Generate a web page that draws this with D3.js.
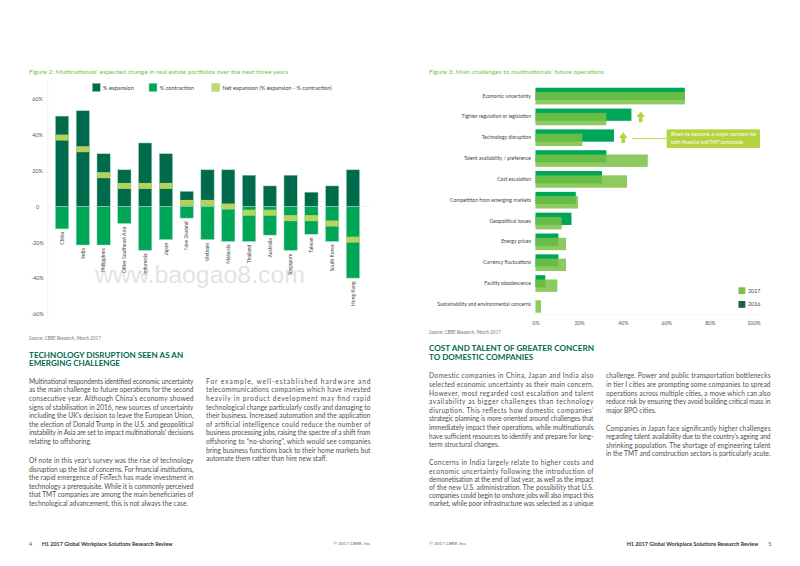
<!DOCTYPE html>
<html><head><meta charset="utf-8">
<script src="https://cdn.jsdelivr.net/npm/d3@7"></script>
<style>
html,body{margin:0;padding:0;background:#fff;}
svg{display:block;}
</style></head><body>
<svg id="c" width="800" height="566"></svg>
<script>
// ---------- DATA ----------
const countries = ["China","India","Philippines","Other Southeast Asia","Indonesia","Japan","New Zealand","Vietnam","Malaysia","Thailand","Australia","Singapore","Taiwan","South Korea","Hong Kong"];
const expansion   = [50.5, 53.5, 29.5, 20.5, 35.5, 29.5, 8.5, 20.5, 20.5, 17.5, 11.5, 17.5, 8, 11.5, 20.5];
const contraction = [-12.5, -21.5, -21.5, -9.5, -24.5, -18.5, -6.5, -18.5, -19.5, -19.5, -16, -24.5, -15.5, -19.5, -40];
const netExpansion= [38.5, 32, 17.5, 11.5, 11.5, 11.5, 2, 2, 0, -3.5, -3.5, -6.5, -6.5, -9.5, -18.5];
const yTickValues = [60, 40, 20, 0, -20, -40, -60];
const yTickLabels = ["60%","40%","20%","0","-20%","-40%","-60%"];
const legend1 = ["% expansion","% contraction","Net expansion (% expansion - % contraction)"];

const challenges = ["Economic uncertainty","Tighter regulation or legislation","Technology disruption","Talent availability / preference","Cost escalation","Competition from emerging markets","Geopolitical issues","Energy prices","Currency fluctuations","Facility obsolescence","Sustainability and environmental concerns"];
const share2016 = [68.5, 44, 36, 32.5, 30.5, 18.5, 16.5, 10.5, 10.5, 4.5, 0];
const share2017 = [68.5, 32.5, 21.5, 51.5, 42, 19.5, 12, 14, 14, 10, 2.5];
const xTickValues = [0, 20, 40, 60, 80, 100];
const xTickLabels = ["0%","20%","40%","60%","80%","100%"];
const legend2 = ["2017","2016"];
const risenCategories = ["Tighter regulation or legislation","Technology disruption"];
const noteLines = ["Risen to become a major concern for","both financial and TMT companies"];

// ---------- STYLE ----------
const FONT = "Lato, 'Noto Sans', 'DejaVu Sans', sans-serif";
const C_EXP = "#006a4d", C_CON = "#00a657", C_NET = "#c3da62";
const C_16 = "#00a657", C_17 = "#7ac143", C_16LEG = "#1d5e46";
const C_TITLE = "#7dc242", C_HEAD = "#006a4d", C_BODY = "#505050", C_AXIS = "#555";
const C_NOTE = "#b3d33f";

const svg = d3.select("#c").attr("font-family", FONT);

// ---------- LEFT CHART ----------
const x1 = d3.scaleBand().domain(countries).range([45, 370]).paddingInner(0.36).paddingOuter(0.5);
const y1 = d3.scaleLinear().domain([-60, 60]).range([313.9, 99.1]);
const bw1 = x1.bandwidth();
const g1 = svg.append("g");

g1.append("line").attr("x1", 47.7).attr("x2", 47.7).attr("y1", 82).attr("y2", 322)
  .attr("stroke", "#cfcfcf").attr("stroke-width", 0.6).attr("stroke-dasharray", "1,1.5");
g1.append("line").attr("x1", 47.7).attr("x2", 370).attr("y1", y1(0)).attr("y2", y1(0))
  .attr("stroke", "#cfcfcf").attr("stroke-width", 0.6).attr("stroke-dasharray", "1,1.5");

const yAx = g1.append("g").attr("transform", "translate(47.7,0)")
  .call(d3.axisLeft(y1).tickValues(yTickValues).tickFormat((d,i)=>yTickLabels[i]).tickSize(0).tickPadding(0));
yAx.select(".domain").remove();
yAx.selectAll("text").attr("x", -10.2).attr("text-anchor", "middle").attr("font-size", 5.4)
  .attr("font-family", FONT).attr("fill", C_AXIS);

const rows1 = countries.map((c,i)=>({c, e: expansion[i], k: contraction[i], n: netExpansion[i]}));
g1.selectAll(".exp").data(rows1).join("rect")
  .attr("x", d=>x1(d.c)).attr("width", bw1)
  .attr("y", d=>y1(d.e)).attr("height", d=>y1(0)-y1(d.e))
  .attr("fill", C_EXP).attr("stroke", "#a8dcc5").attr("stroke-width", 0.5);
g1.selectAll(".con").data(rows1).join("rect")
  .attr("x", d=>x1(d.c)).attr("width", bw1)
  .attr("y", y1(0)).attr("height", d=>y1(d.k)-y1(0))
  .attr("fill", C_CON).attr("stroke", "#a8dcc5").attr("stroke-width", 0.5);
g1.selectAll(".net").data(rows1).join("rect")
  .attr("x", d=>x1(d.c)).attr("width", bw1)
  .attr("y", d=>y1(d.n)-3).attr("height", 6)
  .attr("fill", C_NET).attr("opacity", 0.92);
g1.selectAll(".cat").data(rows1).join("text")
  .attr("transform", d=>`translate(${x1(d.c)+bw1/2},${y1(d.k)+3.2}) rotate(-90)`)
  .attr("text-anchor", "end").attr("dy", "0.35em").attr("font-size", 5)
  .attr("fill", "#444").text(d=>d.c);

// legend
const leg1X = [92.3, 149, 211.7];
const leg1C = [C_EXP, C_CON, C_NET];
legend1.forEach((t,i)=>{
  g1.append("rect").attr("x", leg1X[i]).attr("y", 83.3).attr("width", 8).attr("height", 8.3)
    .attr("fill", leg1C[i]).attr("stroke", "#a8dcc5").attr("stroke-width", 0.4);
  g1.append("text").attr("x", leg1X[i]+10.8).attr("y", 87.6).attr("dy", "0.35em")
    .attr("font-size", 5.6).attr("fill", "#444").text(t);
});

// ---------- RIGHT CHART ----------
const y2 = d3.scaleBand().domain(challenges).range([85.6, 314.7]);
const x2 = d3.scaleLinear().domain([0, 100]).range([535.5, 753.5]);
const step2 = y2.step();
const g2 = svg.append("g");
g2.append("line").attr("x1", 535).attr("x2", 535).attr("y1", 80).attr("y2", 315)
  .attr("stroke", "#d0d0d0").attr("stroke-width", 0.6).attr("stroke-dasharray", "1,1.5");
g2.append("line").attr("x1", 535).attr("x2", 760).attr("y1", 314.5).attr("y2", 314.5)
  .attr("stroke", "#e2e2e2").attr("stroke-width", 0.6).attr("stroke-dasharray", "1,1.5");

const rows2 = challenges.map((c,i)=>({c, a: share2016[i], b: share2017[i]}));
const ctr = c => y2(c) + step2/2;
g2.selectAll(".b16").data(rows2.filter(d=>d.a>0)).join("rect")
  .attr("x", x2(0)).attr("y", d=>ctr(d.c)-8.3).attr("height", 12.3)
  .attr("width", d=>x2(d.a)-x2(0)).attr("fill", C_16);
g2.selectAll(".b17").data(rows2).join("rect")
  .attr("x", x2(0)).attr("y", d=>ctr(d.c)-4).attr("height", 12.4)
  .attr("width", d=>x2(d.b)-x2(0)).attr("fill", C_17).attr("fill-opacity", 0.85);

const cAx = g2.append("g").attr("transform", "translate(531,0)")
  .call(d3.axisLeft(y2).tickSize(0).tickPadding(0));
cAx.select(".domain").remove();
cAx.selectAll("text").attr("font-size", 5.1).attr("font-family", FONT).attr("fill", "#444");

const xAx = g2.append("g").attr("transform", "translate(0,323.3)")
  .call(d3.axisBottom(x2).tickValues(xTickValues).tickFormat((d,i)=>xTickLabels[i]).tickSize(0).tickPadding(0));
xAx.select(".domain").remove();
xAx.selectAll("text").attr("y", 0).attr("dy", "0.35em").attr("font-size", 5.3)
  .attr("font-family", FONT).attr("fill", C_AXIS);

// arrows + note
const arrW = 8.5, arrH = 10.6;
const arrowEnds = [];
risenCategories.forEach(c=>{
  const i = challenges.indexOf(c);
  const left = x2(share2016[i]) + 5, cy = ctr(c), top = cy - arrH/2;
  const cx = left + arrW/2, sw = arrW*0.44, hh = arrH*0.52;
  const p = `M${cx},${top} L${left+arrW},${top+hh} L${cx+sw/2},${top+hh} L${cx+sw/2},${top+arrH} L${cx-sw/2},${top+arrH} L${cx-sw/2},${top+hh} L${left},${top+hh} Z`;
  g2.append("path").attr("d", p).attr("fill", C_NOTE);
  arrowEnds.push({x: left+arrW, y: cy});
});
const last = arrowEnds[arrowEnds.length-1];
const boxX = 666.7, boxW = 93.3, boxH = 18.6;
g2.append("line").attr("x1", last.x+5).attr("x2", boxX).attr("y1", last.y+1).attr("y2", last.y+1)
  .attr("stroke", C_NOTE).attr("stroke-width", 0.9);
g2.append("rect").attr("x", boxX).attr("y", last.y+1-boxH/2).attr("width", boxW).attr("height", boxH)
  .attr("fill", C_NOTE);
noteLines.forEach((t,i)=>{
  g2.append("text").attr("x", boxX+4.3).attr("y", last.y+1-3.9+i*7.7).attr("dy","0.35em")
    .attr("font-size", 4.7).attr("fill", "#fff").attr("textLength", i===0?85.5:72).attr("lengthAdjust","spacingAndGlyphs").text(t);
});

// legend right
const leg2C = [C_17, C_16LEG];
legend2.forEach((t,i)=>{
  const yy = 287.3 + i*13.7;
  g2.append("rect").attr("x", 738.5).attr("y", yy).attr("width", 6.8).attr("height", 6.8).attr("fill", leg2C[i]);
  g2.append("text").attr("x", 748).attr("y", yy+3.5).attr("dy","0.35em").attr("font-size", 5.3)
    .attr("fill", "#444").text(t);
});

// ---------- TEXT ----------
function tl(x, y, s, o) {
  const t = svg.append("text").attr("x", x).attr("y", y).attr("dy", "0.35em").text(s)
    .attr("font-size", o.fs).attr("fill", o.fill || C_BODY);
  if (o.w) t.attr("textLength", o.w).attr("lengthAdjust", o.adj || "spacingAndGlyphs");
  if (o.bold) t.attr("font-weight", "bold");
  if (o.italic) t.attr("font-style", "italic");
  if (o.anchor) t.attr("text-anchor", o.anchor);
  return t;
}
tl(29, 71.7, "Figure 2: Multinationals’ expected change in real estate portfolios over the next three years", {fs:6.2, fill:C_TITLE, w:259});
tl(429, 71.7, "Figure 3: Main challenges to multinationals’ future operations", {fs:6.2, fill:C_TITLE, w:175});
tl(29, 338.3, "Source: CBRE Research, March 2017", {fs:4.8, fill:"#777", italic:true, w:72});
tl(429, 332.7, "Source: CBRE Research, March 2017", {fs:4.8, fill:"#777", italic:true, w:72});
tl(29, 355, "TECHNOLOGY DISRUPTION SEEN AS AN", {fs:8, fill:C_HEAD, bold:true, w:154.3});
tl(29, 363.5, "EMERGING CHALLENGE", {fs:8, fill:C_HEAD, bold:true, w:91});
tl(429, 348.5, "COST AND TALENT OF GREATER CONCERN", {fs:8, fill:C_HEAD, bold:true, w:165});
tl(429, 357, "TO DOMESTIC COMPANIES", {fs:8, fill:C_HEAD, bold:true, w:104.3});

// footers
tl(29, 544, "4", {fs:5.5, fill:"#555"});
tl(41.7, 544, "H1 2017 Global Workplace Solutions Research Review", {fs:5.5, fill:"#333", bold:true, w:131});
tl(333.3, 543.3, "© 2017 CBRE, Inc.", {fs:4.6, fill:"#666", w:37.7});
tl(429, 543.3, "© 2017 CBRE, Inc.", {fs:4.6, fill:"#666", w:37.7});
tl(626.7, 544, "H1 2017 Global Workplace Solutions Research Review", {fs:5.5, fill:"#333", bold:true, w:131.6});
tl(768.3, 544, "5", {fs:5.5, fill:"#555"});

// body paragraphs
const COLW = 164.5;
const paragraphs = [
  {x:29, y:381.5, lh:8.6, justifyLast:false, lines:[
    "Multinational respondents identified economic uncertainty",
    "as the main challenge to future operations for the second",
    "consecutive year. Although China’s economy showed",
    "signs of stabilisation in 2016, new sources of uncertainty",
    "including the UK’s decision to leave the European Union,",
    "the election of Donald Trump in the U.S. and geopolitical",
    "instability in Asia are set to impact multinationals’ decisions",
    "relating to offshoring."]},
  {x:29, y:461, lh:8.5, justifyLast:false, lines:[
    "Of note in this year’s survey was the rise of technology",
    "disruption up the list of concerns. For financial institutions,",
    "the rapid emergence of FinTech has made investment in",
    "technology a prerequisite. While it is commonly perceived",
    "that TMT companies are among the main beneficiaries of",
    "technological advancement, this is not always the case."]},
  {x:206, y:381.5, lh:8.6, justifyLast:false, lines:[
    "For example, well-established hardware and",
    "telecommunications companies which have invested",
    "heavily in product development may find rapid",
    "technological change particularly costly and damaging to",
    "their business. Increased automation and the application",
    "of artificial intelligence could reduce the number of",
    "business processing jobs, raising the spectre of a shift from",
    "offshoring to “no-shoring”, which would see companies",
    "bring business functions back to their home markets but",
    "automate them rather than hire new staff."]},
  {x:429, y:376, lh:8.6, justifyLast:false, lines:[
    "Domestic companies in China, Japan and India also",
    "selected economic uncertainty as their main concern.",
    "However, most regarded cost escalation and talent",
    "availability as bigger challenges than technology",
    "disruption. This reflects how domestic companies’",
    "strategic planning is more oriented around challenges that",
    "immediately impact their operations, while multinationals",
    "have sufficient resources to identify and prepare for long-",
    "term structural changes."]},
  {x:429, y:463, lh:8.2, justifyLast:true, lines:[
    "Concerns in India largely relate to higher costs and",
    "economic uncertainty following the introduction of",
    "demonetisation at the end of last year, as well as the impact",
    "of the new U.S. administration. The possibility that U.S.",
    "companies could begin to onshore jobs will also impact this",
    "market, while poor infrastructure was selected as a unique"]},
  {x:606, y:376, lh:8.6, justifyLast:false, lines:[
    "challenge. Power and public transportation bottlenecks",
    "in tier I cities are prompting some companies to spread",
    "operations across multiple cities, a move which can also",
    "reduce risk by ensuring they avoid building critical mass in",
    "major BPO cities."]},
  {x:606, y:428.3, lh:8.6, justifyLast:false, lines:[
    "Companies in Japan face significantly higher challenges",
    "regarding talent availability due to the country’s ageing and",
    "shrinking population. The shortage of engineering talent",
    "in the TMT and construction sectors is particularly acute."]}
];
const meas = svg.append("text").attr("font-size", 10).attr("visibility", "hidden");
const natW = s => { meas.text(s); return meas.node().getComputedTextLength(); };
const ratios = [];
paragraphs.forEach(p=>p.lines.forEach((s,i)=>{ if (i < p.lines.length-1 || p.justifyLast) ratios.push(COLW/natW(s)); }));
const bodyFS = 10 * d3.median(ratios) * 0.99;
meas.remove();
paragraphs.forEach(p=>{
  p.lines.forEach((s,i)=>{
    const isLast = i === p.lines.length-1 && !p.justifyLast;
    tl(p.x, p.y + i*p.lh, s, {fs: bodyFS, w: isLast ? null : COLW, adj: "spacing"});
  });
});

// watermark
svg.append("text").attr("x", 95).attr("y", 275).attr("dy", "0.35em").attr("font-size", 23)
  .attr("font-family", "'Liberation Sans', Arial, sans-serif").attr("fill", "#c8c8c8").attr("opacity", 0.5)
  .attr("textLength", 210).attr("lengthAdjust", "spacingAndGlyphs").text("www.baogao8.com");
</script>
</body></html>
